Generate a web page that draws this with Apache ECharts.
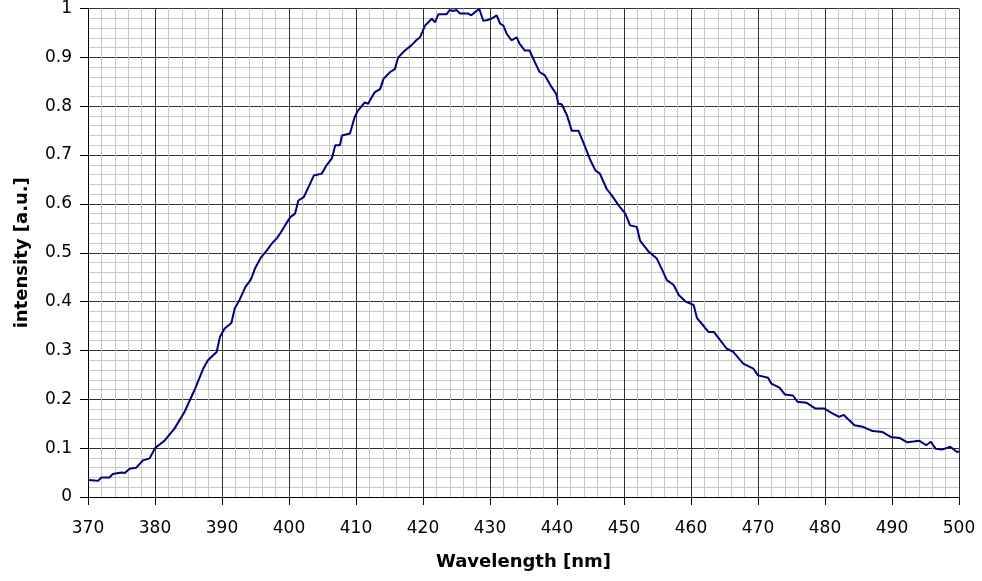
<!DOCTYPE html>
<html><head><meta charset="utf-8">
<script src="https://cdn.jsdelivr.net/npm/echarts@6/dist/echarts.min.js"></script>
<style>html,body{margin:0;padding:0;background:#fff}#c{width:982px;height:581px}</style>
</head><body><div id="c"></div>
<script>
var wavelength = [370,371,371.5,372,373.2,373.7,375,375.5,376.2,377.2,378.2,379.2,380,381.4,382.9,384.4,385.9,387.2,387.9,389.2,389.7,390.4,391.4,391.9,392.6,393.5,394.3,395,395.8,396.7,397.5,398.2,398.66,399.4,400.2,400.9,401.4,402.2,402.9,403.7,404.9,405.6,406.4,406.9,407.6,407.9,409.1,409.8,410.3,411.3,411.8,412.8,413.6,414.1,415.1,415.8,416.3,417.3,418.3,419,419.55,420.3,421.3,421.8,422.3,423.5,424,424.5,425,425.5,426.7,427.2,427.7,428.4,429,429.5,430.2,431,431.5,432,432.5,433.2,434,434.4,435.2,435.9,436.7,437.4,438.2,439.2,439.9,440.2,440.7,441.5,442.2,443.2,443.9,444.9,445.7,446.4,447.4,448.2,449.2,450.2,450.9,451.9,452.4,453.7,454.9,455.7,456.4,457.4,458.2,459.2,460.4,460.9,461.9,462.6,463.4,464.3,465.3,466.3,467.8,469.3,470,471.5,472,473.2,474,475.2,475.9,477.2,478.6,479.9,481.1,482.1,482.8,484.4,485.6,487.1,488.6,489.8,491.1,492.3,494.1,495.1,495.8,496.5,497.5,498.7,499.7,500];
var intensity = [0.035,0.034,0.033,0.040,0.040,0.047,0.050,0.049,0.058,0.060,0.075,0.079,0.100,0.115,0.140,0.174,0.219,0.263,0.280,0.297,0.328,0.345,0.356,0.386,0.403,0.430,0.445,0.470,0.490,0.505,0.520,0.530,0.539,0.556,0.573,0.580,0.607,0.614,0.634,0.658,0.662,0.679,0.693,0.720,0.720,0.740,0.744,0.778,0.791,0.808,0.805,0.829,0.835,0.856,0.870,0.876,0.900,0.914,0.925,0.935,0.941,0.965,0.979,0.972,0.988,0.988,0.997,0.995,0.997,0.990,0.990,0.986,0.992,0.999,0.975,0.976,0.979,0.986,0.969,0.965,0.948,0.935,0.941,0.928,0.914,0.914,0.890,0.870,0.863,0.839,0.825,0.805,0.804,0.781,0.750,0.750,0.727,0.692,0.669,0.662,0.631,0.617,0.597,0.580,0.556,0.553,0.525,0.502,0.488,0.465,0.444,0.434,0.413,0.400,0.393,0.366,0.350,0.338,0.338,0.322,0.304,0.297,0.273,0.263,0.249,0.244,0.232,0.224,0.210,0.208,0.195,0.193,0.181,0.181,0.171,0.164,0.168,0.147,0.144,0.135,0.133,0.123,0.121,0.112,0.115,0.106,0.113,0.099,0.097,0.103,0.092,0.093];
var xTicks = {min:370, max:500, step:10};
var yTicks = {min:0, max:1, step:0.1};
var xTitle = 'Wavelength [nm]';
var yTitle = 'intensity [a.u.]';

var pts = wavelength.map(function(w,i){return [w,intensity[i]];});
var chart = echarts.init(document.getElementById('c'));
var font = 'DejaVu Sans, sans-serif';
chart.setOption({
  animation:false,
  grid:{left:88,right:23,top:8,bottom:84},
  xAxis:{type:'value',min:xTicks.min,max:xTicks.max,interval:xTicks.step,
    name:xTitle,nameLocation:'middle',nameGap:56,
    nameTextStyle:{fontFamily:font,fontSize:18,fontWeight:'bold',color:'#000'},
    axisLine:{show:true,onZero:false,lineStyle:{color:'#000',width:1}},
    axisTick:{show:true,length:8,lineStyle:{color:'#000'}},
    axisLabel:{fontFamily:font,fontSize:17,color:'#000',margin:23},
    splitLine:{show:true,lineStyle:{color:'#333',width:1}},
    minorTick:{show:false,splitNumber:5},
    minorSplitLine:{show:true,lineStyle:{color:'#c8c8c8',width:1}}
  },
  yAxis:{type:'value',min:yTicks.min,max:yTicks.max,interval:yTicks.step,
    name:yTitle,nameLocation:'middle',nameGap:57,nameRotate:90,
    nameTextStyle:{fontFamily:font,fontSize:18,fontWeight:'bold',color:'#000'},
    axisLine:{show:true,lineStyle:{color:'#000',width:1}},
    axisTick:{show:true,length:8,lineStyle:{color:'#000'}},
    axisLabel:{fontFamily:font,fontSize:17,color:'#000',margin:16,
      formatter:function(v){return (v===0||v===1)?String(v):v.toFixed(1);}},
    splitLine:{show:true,lineStyle:{color:'#333',width:1}},
    minorTick:{show:false,splitNumber:5},
    minorSplitLine:{show:true,lineStyle:{color:'#c8c8c8',width:1}}
  },
  series:[{type:'line',data:pts,showSymbol:false,symbol:'none',
    lineStyle:{color:'#000080',width:2},itemStyle:{color:'#000080'}}]
});
</script></body></html>
